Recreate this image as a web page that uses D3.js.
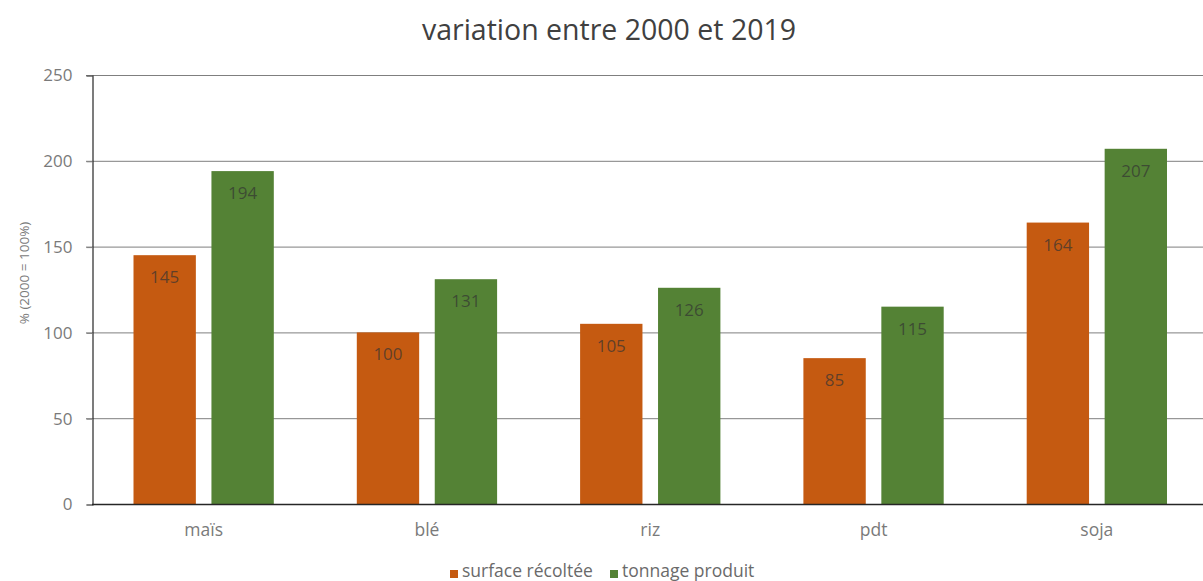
<!DOCTYPE html>
<html>
<head>
<meta charset="utf-8">
<script src="https://cdn.jsdelivr.net/npm/d3@7"></script>
<style>
  html, body { margin: 0; padding: 0; background: #fff; }
  svg { display: block; font-family: "Open Sans", "Noto Sans", sans-serif; }
</style>
</head>
<body>
<svg id="chart" width="1203" height="581"></svg>
<script>
// Crops and their change between 2000 and 2019 (2000 = 100 %)
const categories = ["maïs", "blé", "riz", "pdt", "soja"];
const surface = [145, 100, 105, 85, 164];
const tonnage = [194, 131, 126, 115, 207];
const seriesNames = ["surface récoltée", "tonnage produit"];
const yTicks = [0, 50, 100, 150, 200, 250];

const colors = ["#C55A11", "#548235"];
const series = [surface, tonnage];

const svg = d3.select("#chart");
const plotLeft = 92, plotBottom = 504, plotTop = 75;
const step = 223.3;

const x = d3.scaleBand()
  .domain(categories)
  .range([plotLeft, plotLeft + step * categories.length])
  .paddingInner(0).paddingOuter(0);

const inner = d3.scaleBand()
  .domain(d3.range(series.length))
  .range([41.5, step - 41.5])
  .paddingInner(0.2);

const y = d3.scaleLinear().domain([0, 250]).range([plotBottom, plotTop]);

// Title
svg.append("text")
  .attr("x", 609).attr("y", 40)
  .attr("text-anchor", "middle")
  .attr("font-size", 28.5)
  .attr("fill", "#404040")
  .text("variation entre 2000 et 2019");

// Gridlines
svg.append("g")
  .selectAll("line")
  .data(yTicks.filter(d => d > 0))
  .join("line")
  .attr("x1", plotLeft - 6).attr("x2", 1203)
  .attr("y1", d => y(d) + 0.5).attr("y2", d => y(d) + 0.5)
  .attr("stroke", "#7f7f7f").attr("stroke-width", 1);

// Y axis
const yAxis = d3.axisLeft(y).tickValues(yTicks).tickSize(6).tickPadding(14);
const gy = svg.append("g").attr("transform", `translate(${plotLeft + 0.5},0.5)`).call(yAxis);
gy.select(".domain").attr("stroke", "#262626").attr("stroke-width", 1.2);
gy.selectAll(".tick line").attr("stroke", "#7f7f7f");
gy.selectAll(".tick text")
  .attr("font-size", 17).attr("fill", "#7a7a7a")
  .attr("font-family", "\"Open Sans\", sans-serif");

// Y axis title
svg.append("text")
  .attr("transform", `translate(29,273) rotate(-90)`)
  .attr("text-anchor", "middle")
  .attr("font-size", 13.5)
  .attr("fill", "#7a7a7a")
  .text("% (2000 = 100%)");

// Bars
const groups = svg.append("g")
  .selectAll("g")
  .data(categories)
  .join("g")
  .attr("transform", d => `translate(${x(d)},0)`);

series.forEach((vals, si) => {
  groups.append("rect")
    .attr("x", inner(si))
    .attr("width", inner.bandwidth())
    .attr("y", (d, i) => y(vals[i]))
    .attr("height", (d, i) => plotBottom - y(vals[i]))
    .attr("fill", colors[si]);

  groups.append("text")
    .attr("x", inner(si) + inner.bandwidth() / 2)
    .attr("y", (d, i) => y(vals[i]) + 28)
    .attr("text-anchor", "middle")
    .attr("font-size", 17)
    .attr("fill", "#333")
    .attr("fill-opacity", 0.7)
    .text((d, i) => vals[i]);
});

// X axis baseline
svg.append("line")
  .attr("x1", plotLeft).attr("x2", 1203)
  .attr("y1", plotBottom + 0.5).attr("y2", plotBottom + 0.5)
  .attr("stroke", "#262626").attr("stroke-width", 1.4);

// X labels
svg.append("g")
  .selectAll("text")
  .data(categories)
  .join("text")
  .attr("x", d => x(d) + step / 2)
  .attr("y", 536)
  .attr("text-anchor", "middle")
  .attr("font-size", 17.5)
  .attr("fill", "#7a7a7a")
  .text(d => d);

// Legend
const legendX = [450, 610];
const legend = svg.append("g")
  .selectAll("g")
  .data(seriesNames)
  .join("g")
  .attr("transform", (d, i) => `translate(${legendX[i]},0)`);
legend.append("rect")
  .attr("x", 0).attr("y", 570).attr("width", 8).attr("height", 8)
  .attr("fill", (d, i) => colors[i]);
legend.append("text")
  .attr("x", 12).attr("y", 577)
  .attr("font-size", 17.5)
  .attr("fill", "#6a6a6a")
  .text(d => d);
</script>
</body>
</html>
